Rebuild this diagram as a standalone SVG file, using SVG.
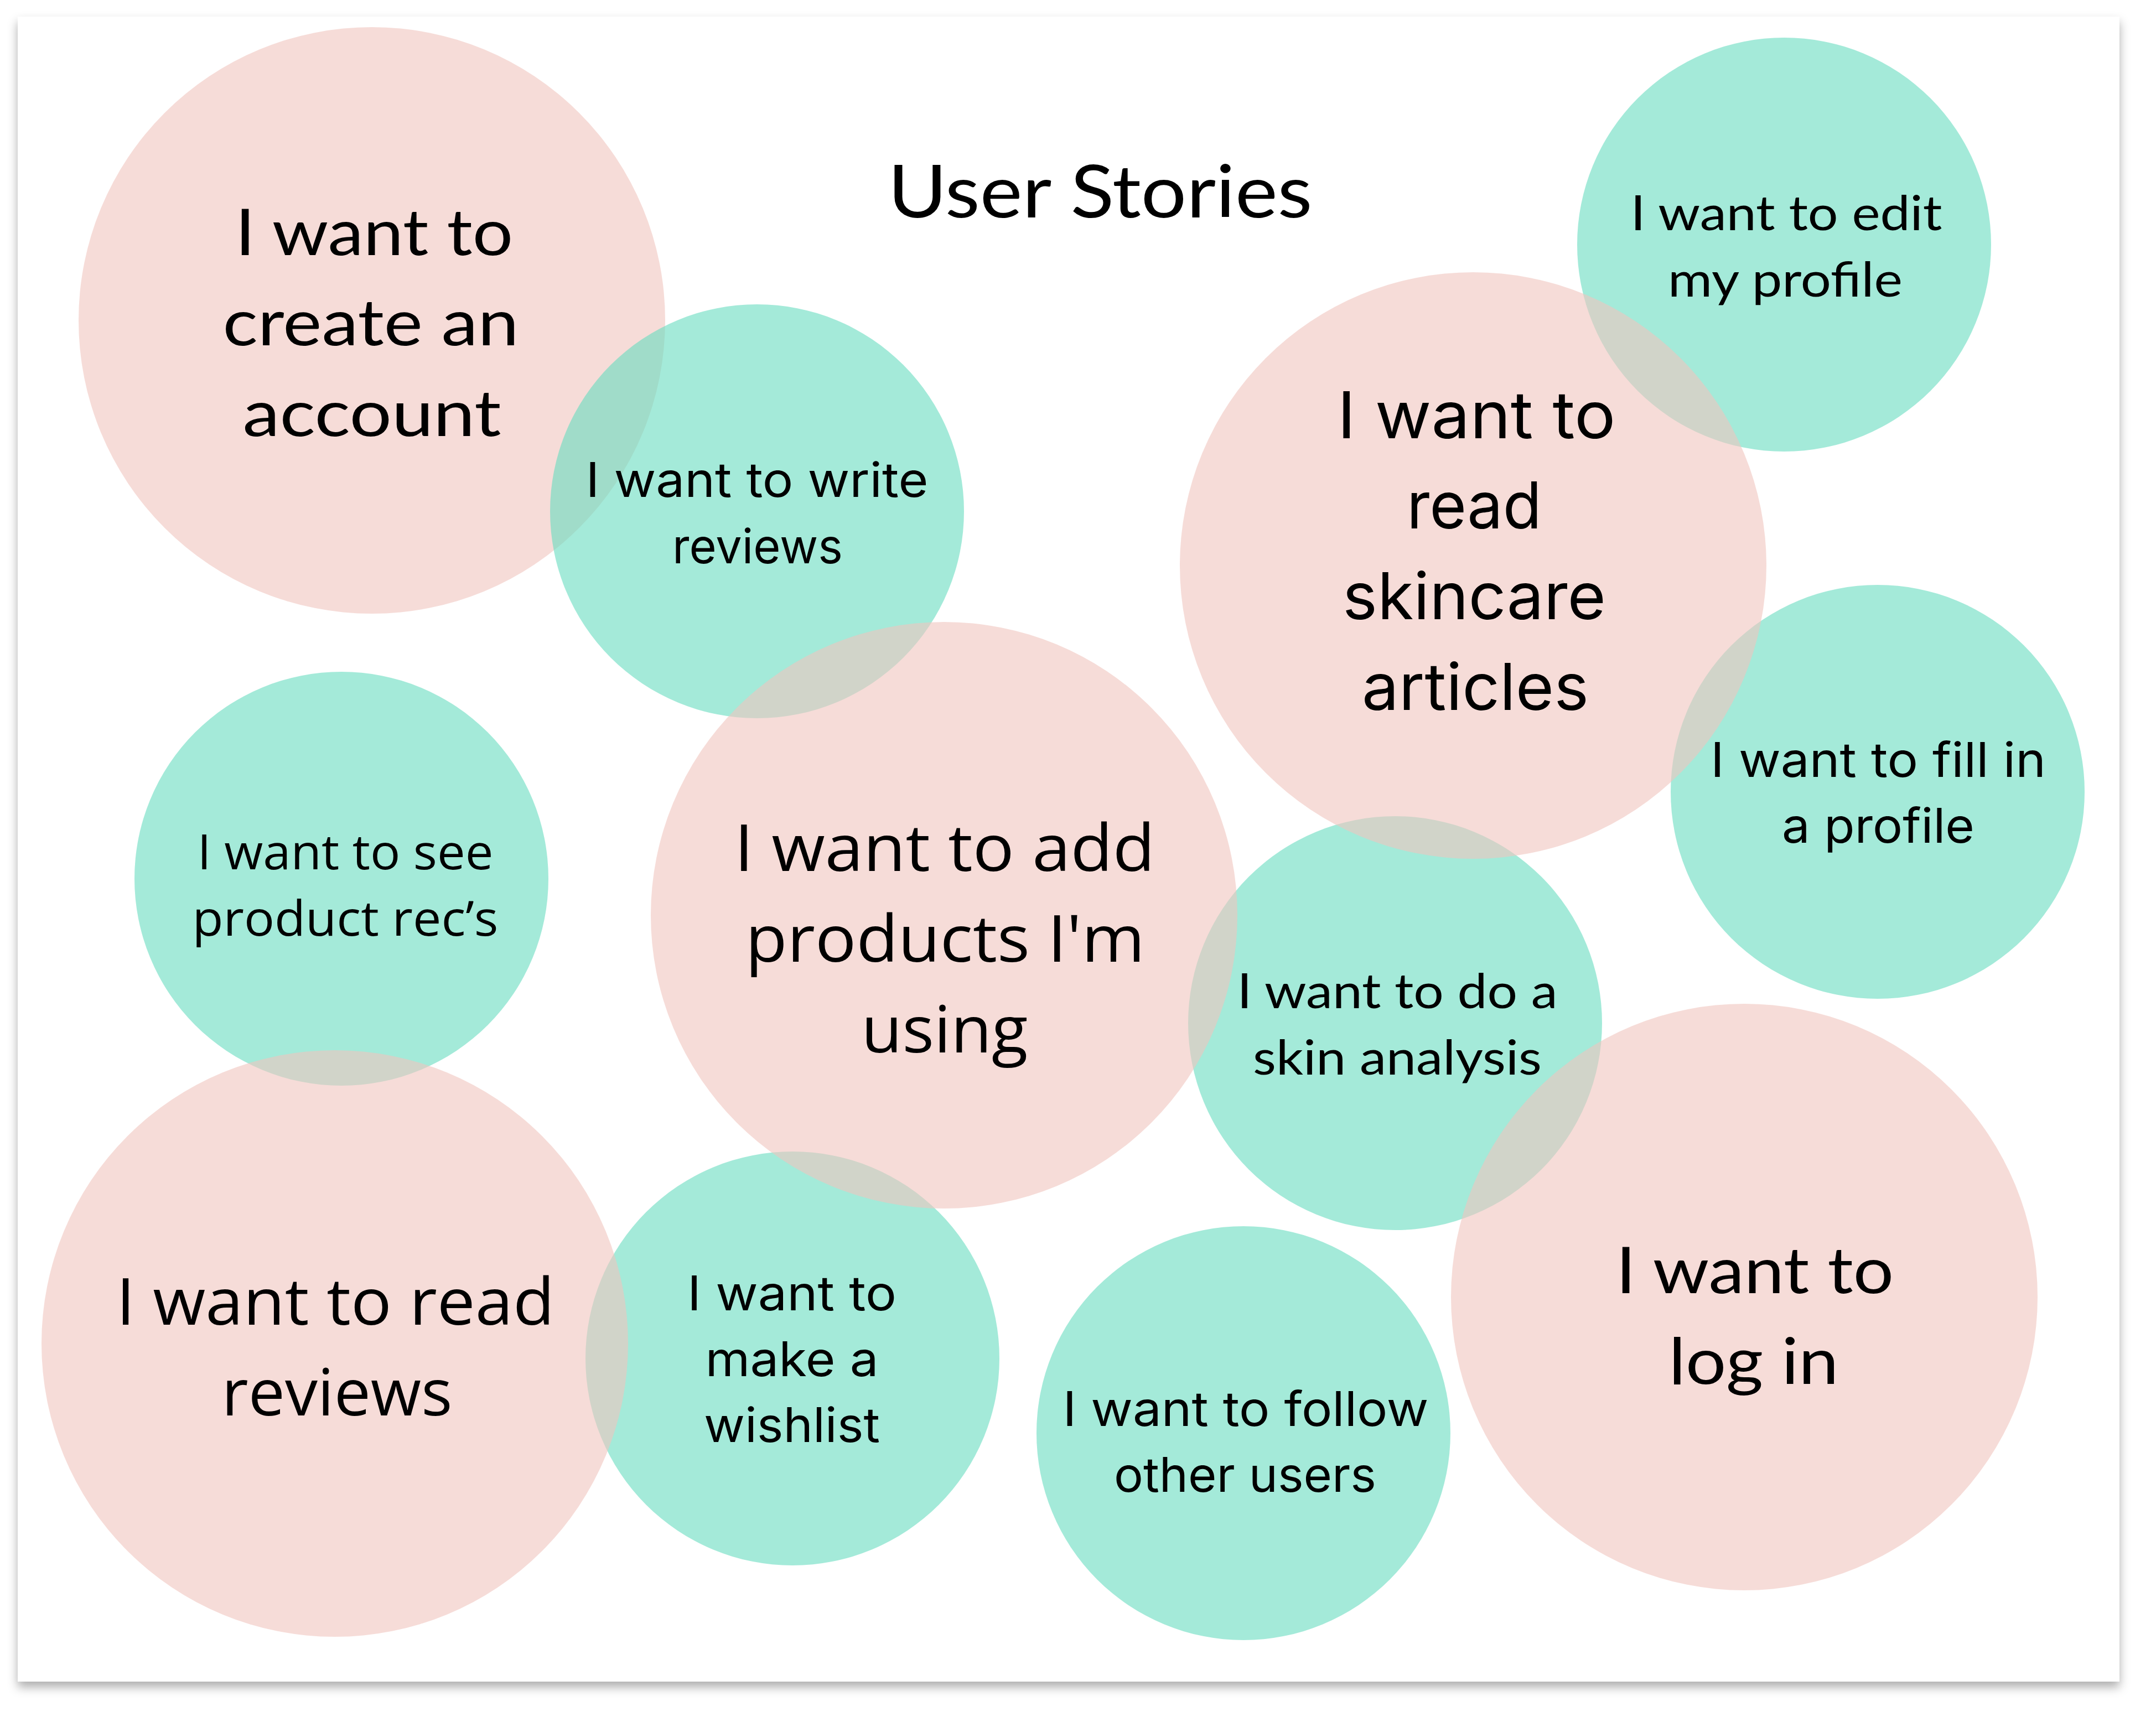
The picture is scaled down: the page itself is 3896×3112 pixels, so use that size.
<svg xmlns="http://www.w3.org/2000/svg" width="3896" height="3112" viewBox="0 0 3896 3112">
<defs>
<filter id="pageShadow" x="-5%" y="-5%" width="110%" height="110%">
<feDropShadow dx="0" dy="10" stdDeviation="9" flood-color="#000" flood-opacity="0.32"/>
</filter>
</defs>
<style>
.pink{fill:#F0C5BE;fill-opacity:0.6}
.green{fill:#67DCC0;fill-opacity:0.6}
text{fill:#000;text-anchor:middle}
.lato{font-family:Lato,"Noto Sans",sans-serif}
.inter{font-family:Inter,"Noto Sans",sans-serif}
.open{font-family:"Open Sans","Noto Sans",sans-serif}
.big{font-size:117px}
.small{font-size:87px}
</style>
<rect x="0" y="0" width="3896" height="3112" fill="#ffffff"/>
<rect id="page" x="32" y="30" width="3798" height="3009" fill="#ffffff" filter="url(#pageShadow)"/>
<g id="title"><text class="lato" x="1988" y="393" font-size="132" textLength="767" lengthAdjust="spacingAndGlyphs">User Stories</text></g>

<g id="create-account">
<circle class="pink" cx="672" cy="579" r="530"/>
<text class="lato big" x="676" y="461" textLength="502" lengthAdjust="spacingAndGlyphs">I want to</text>
<text class="lato big" x="670" y="624" textLength="535" lengthAdjust="spacingAndGlyphs">create an</text>
<text class="lato big" x="672" y="788" textLength="467" lengthAdjust="spacingAndGlyphs">account</text>
</g>

<g id="write-reviews">
<circle class="green" cx="1368" cy="924" r="374"/>
<text class="inter small" x="1368" y="898" textLength="619" lengthAdjust="spacingAndGlyphs">I want to write</text>
<text class="inter small" x="1369" y="1018" textLength="308" lengthAdjust="spacingAndGlyphs">reviews</text>
</g>

<g id="edit-profile">
<circle class="green" cx="3224" cy="442" r="374"/>
<text class="lato small" x="3228" y="416" textLength="563" lengthAdjust="spacingAndGlyphs">I want to edit</text>
<text class="lato small" x="3226" y="536" textLength="424" lengthAdjust="spacingAndGlyphs">my profile</text>
</g>

<g id="fill-profile">
<circle class="green" cx="3393" cy="1431" r="374"/>
<text class="inter small" x="3394" y="1404" textLength="606" lengthAdjust="spacingAndGlyphs">I want to fill in</text>
<text class="inter small" x="3394" y="1523" textLength="348" lengthAdjust="spacingAndGlyphs">a profile</text>
</g>

<g id="product-recs">
<circle class="green" cx="617" cy="1588" r="374"/>
<text class="open small" x="624" y="1571" textLength="535" lengthAdjust="spacingAndGlyphs">I want to see</text>
<text class="open small" x="624" y="1691" textLength="553" lengthAdjust="spacingAndGlyphs">product rec’s</text>
</g>

<g id="skin-analysis">
<circle class="green" cx="2521" cy="1849" r="374"/>
<text class="lato small" x="2525" y="1822" textLength="579" lengthAdjust="spacingAndGlyphs">I want to do a</text>
<text class="lato small" x="2525" y="1942" textLength="522" lengthAdjust="spacingAndGlyphs">skin analysis</text>
</g>

<g id="wishlist">
<circle class="green" cx="1432" cy="2455" r="374"/>
<text class="inter small" x="1431" y="2368" textLength="378" lengthAdjust="spacingAndGlyphs">I want to</text>
<text class="inter small" x="1431" y="2487" textLength="313" lengthAdjust="spacingAndGlyphs">make a</text>
<text class="inter small" x="1431" y="2606" textLength="318" lengthAdjust="spacingAndGlyphs">wishlist</text>
</g>

<g id="follow-users">
<circle class="green" cx="2247" cy="2590" r="374"/>
<text class="inter small" x="2251" y="2577" textLength="661" lengthAdjust="spacingAndGlyphs">I want to follow</text>
<text class="inter small" x="2250" y="2696" textLength="474" lengthAdjust="spacingAndGlyphs">other users</text>
</g>

<g id="read-articles">
<circle class="pink" cx="2662" cy="1022" r="530"/>
<text class="inter big" x="2668" y="792" textLength="503" lengthAdjust="spacingAndGlyphs">I want to</text>
<text class="inter big" x="2664" y="955" textLength="244" lengthAdjust="spacingAndGlyphs">read</text>
<text class="inter big" x="2664" y="1119" textLength="476" lengthAdjust="spacingAndGlyphs">skincare</text>
<text class="inter big" x="2666" y="1283" textLength="410" lengthAdjust="spacingAndGlyphs">articles</text>
</g>

<g id="add-products">
<circle class="pink" cx="1706" cy="1654" r="530"/>
<text class="open big" x="1707" y="1574" textLength="760" lengthAdjust="spacingAndGlyphs">I want to add</text>
<text class="open big" x="1708" y="1738" textLength="722" lengthAdjust="spacingAndGlyphs">products I'm</text>
<text class="open big" x="1707" y="1902" textLength="301" lengthAdjust="spacingAndGlyphs">using</text>
</g>

<g id="read-reviews">
<circle class="pink" cx="605" cy="2428" r="530"/>
<text class="open big" x="606" y="2394" textLength="792" lengthAdjust="spacingAndGlyphs">I want to read</text>
<text class="open big" x="609" y="2558" textLength="417" lengthAdjust="spacingAndGlyphs">reviews</text>
</g>

<g id="log-in">
<circle class="pink" cx="3152" cy="2344" r="530"/>
<text class="lato big" x="3171" y="2337" textLength="502" lengthAdjust="spacingAndGlyphs">I want to</text>
<text class="lato big" x="3169" y="2501" textLength="307" lengthAdjust="spacingAndGlyphs">log in</text>
</g>

<g id="connectors"></g>
</svg>
